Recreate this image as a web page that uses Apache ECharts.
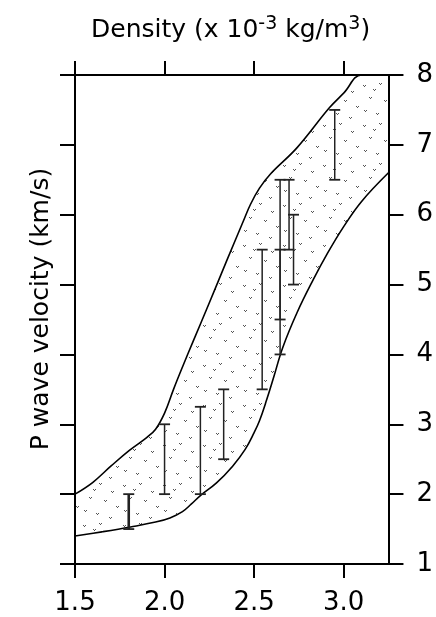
<!DOCTYPE html>
<html>
<head>
<meta charset="utf-8">
<script src="https://cdn.jsdelivr.net/npm/echarts@6/dist/echarts.min.js"></script>
<style>html,body{margin:0;padding:0;background:#fff;}#c{width:436px;height:617px;}</style>
</head>
<body>
<div id="c"></div>
<script>
// ---- data ----
const xTicks = [1.5, 2.0, 2.5, 3.0];
const yTicks = [1, 2, 3, 4, 5, 6, 7, 8];
// upper (left) boundary of the shaded band: [density, velocity]
const upperCurve = [
  [1.5, 2.0], [1.6, 2.17], [1.7, 2.4], [1.8, 2.62], [1.9, 2.81], [1.95, 2.93],
  [2.0, 3.16], [2.05, 3.5], [2.1, 3.82], [2.16, 4.19], [2.25, 4.74], [2.35, 5.36], [2.44, 5.91],
  [2.48, 6.15], [2.53, 6.38], [2.59, 6.58], [2.74, 6.96], [2.92, 7.53], [3.0, 7.74],
  [3.1, 8.0], [3.25, 8.0]
];
// lower (right) boundary of the shaded band
const lowerCurve = [
  [1.5, 1.4], [1.65, 1.46], [1.81, 1.53], [1.95, 1.6], [2.03, 1.66], [2.1, 1.75],
  [2.15, 1.86], [2.2, 1.98], [2.29, 2.16], [2.38, 2.4], [2.45, 2.64], [2.5, 2.88], [2.53, 3.05],
  [2.57, 3.35], [2.61, 3.68], [2.66, 4.1], [2.74, 4.6], [2.83, 5.07], [2.91, 5.45],
  [3.0, 5.83], [3.1, 6.19], [3.25, 6.6]
];
// error bars: [density, low velocity, high velocity]
const errorBars = [
  [1.8, 1.5, 2.0], [2.0, 2.0, 3.0], [2.2, 2.0, 3.25], [2.33, 2.5, 3.5],
  [2.545, 3.5, 5.5], [2.645, 4.5, 6.5], [2.645, 4.0, 5.5], [2.695, 5.5, 6.5],
  [2.72, 5.0, 6.0], [2.95, 6.5, 7.5]
];

// ---- stipple texture ----
function makeStipple() {
  const c = document.createElement('canvas');
  c.width = 40; c.height = 40;
  const g = c.getContext('2d');
  g.fillStyle = '#555';
  const dots = [[3,5],[19,3],[31,11],[9,17],[24,20],[36,26],[4,30],[16,33],[29,37],[13,9]];
  dots.forEach(function (d) {
    g.fillRect(d[0], d[1], 1, 1); g.fillRect(d[0] + 1, d[1] + 1, 1, 1); g.fillRect(d[0] + 2, d[1], 1, 1);
  });
  return c;
}

const FONT = 'DejaVu Sans';
const chart = echarts.init(document.getElementById('c'), null, {renderer: 'canvas'});

const axisCommon = {
  type: 'value', z: 10,
  axisLine: {show: true, onZero: false, lineStyle: {color: '#000', width: 2}},
  splitLine: {show: false}
};

chart.setOption({
  animation: false,
  backgroundColor: '#fff',
  title: {
    text: '{a|Density (x 10}{s|-3}{a| kg/m}{s|3}{a|)}',
    left: 86, top: 10,
    textStyle: {
      fontFamily: FONT, fontSize: 25, fontWeight: 'normal', color: '#000',
      rich: {
        a: {fontFamily: FONT, fontSize: 25, fontWeight: 'normal', color: '#000'},
        s: {fontFamily: FONT, fontSize: 19, fontWeight: 'normal', color: '#000', padding: [0, 0, 11, 0]}
      }
    }
  },
  graphic: [{
    type: 'text', x: 41, y: 309, rotation: Math.PI / 2,
    style: {text: 'P wave velocity (km/s)', fontFamily: FONT, fontSize: 25, fill: '#000',
            align: 'center', verticalAlign: 'middle'}
  }],
  grid: {left: 75, right: 47, top: 75, bottom: 53, containLabel: false},
  xAxis: [
    Object.assign({}, axisCommon, {
      position: 'bottom', min: 1.5, max: 3.25, interval: 0.5,
      axisTick: {show: true, inside: false, length: 14, customValues: xTicks, lineStyle: {color: '#000', width: 2}},
      axisLabel: {show: true, customValues: xTicks, margin: 26, fontFamily: FONT, fontSize: 26, color: '#000',
                  formatter: function (v) { return v.toFixed(1); }}
    }),
    Object.assign({}, axisCommon, {
      position: 'top', min: 1.5, max: 3.25, interval: 0.5,
      axisTick: {show: true, inside: false, length: 14, customValues: xTicks, lineStyle: {color: '#000', width: 2}},
      axisLabel: {show: false}
    })
  ],
  yAxis: [
    Object.assign({}, axisCommon, {
      position: 'left', min: 1, max: 8, interval: 1,
      axisTick: {show: true, inside: false, length: 15, customValues: yTicks, lineStyle: {color: '#000', width: 2}},
      axisLabel: {show: false}
    }),
    Object.assign({}, axisCommon, {
      position: 'right', min: 1, max: 8, interval: 1,
      axisTick: {show: true, inside: false, length: 15, customValues: yTicks, lineStyle: {color: '#000', width: 2}},
      axisLabel: {show: true, customValues: yTicks, margin: 28, fontFamily: FONT, fontSize: 26, color: '#000'}
    })
  ],
  series: [
    {
      type: 'line', name: 'upper', data: upperCurve, xAxisIndex: 0, yAxisIndex: 0,
      smooth: 0.4, symbol: 'none', z: 2,
      lineStyle: {color: '#000', width: 1.6},
      areaStyle: {color: {image: makeStipple(), repeat: 'repeat'}, opacity: 1, origin: 'start'}
    },
    {
      type: 'line', name: 'lower', data: lowerCurve, xAxisIndex: 0, yAxisIndex: 0,
      smooth: 0.4, symbol: 'none', z: 3,
      lineStyle: {color: '#000', width: 1.6},
      areaStyle: {color: '#fff', opacity: 1, origin: 'start'}
    },
    {
      type: 'custom', name: 'bars', data: errorBars, xAxisIndex: 0, yAxisIndex: 0, z: 5,
      renderItem: function (params, api) {
        const x = api.value(0), lo = api.value(1), hi = api.value(2);
        const pLo = api.coord([x, lo]), pHi = api.coord([x, hi]);
        const w = 5.5;
        const lw = params.dataIndex === 0 ? 2.6 : 1.5;
        const st = {stroke: '#222', lineWidth: lw};
        return {
          type: 'group',
          children: [
            {type: 'line', shape: {x1: pLo[0], y1: pLo[1], x2: pHi[0], y2: pHi[1]}, style: st},
            {type: 'line', shape: {x1: pLo[0] - w, y1: pLo[1], x2: pLo[0] + w, y2: pLo[1]}, style: {stroke: '#222', lineWidth: 1.8}},
            {type: 'line', shape: {x1: pHi[0] - w, y1: pHi[1], x2: pHi[0] + w, y2: pHi[1]}, style: {stroke: '#222', lineWidth: 1.8}}
          ]
        };
      }
    }
  ]
});
</script>
</body>
</html>
